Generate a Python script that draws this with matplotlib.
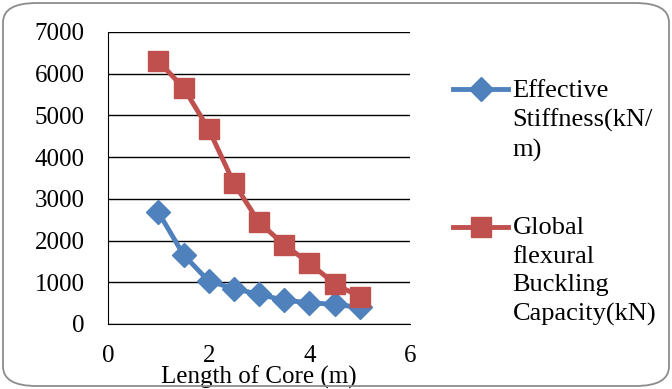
import matplotlib.pyplot as plt
from matplotlib.patches import FancyBboxPatch

# data
length = [1, 1.5, 2, 2.5, 3, 3.5, 4, 4.5, 5]
stiffness = [2680, 1660, 1030, 850, 710, 570, 510, 470, 400]
buckling = [6300, 5665, 4670, 3380, 2440, 1900, 1460, 970, 650]
labels = ['Effective\nStiffness(kN/\nm)', 'Global\nflexural\nBuckling\nCapacity(kN)']

plt.rcParams['font.family'] = ['Liberation Serif', 'DejaVu Serif']
plt.rcParams['font.size'] = 18

W, H = 672, 389
fig = plt.figure(figsize=(W / 100, H / 100), dpi=100)
ax = fig.add_axes([108 / W, 1 - 324 / H, 302 / W, 292 / H])

ax.plot(length, stiffness, color='#4F81BD', lw=3.5, marker='D', ms=12, label=labels[0])
ax.plot(length, buckling, color='#C0504D', lw=3.5, marker='s', ms=14, label=labels[1])

ax.set_xlim(0, 6)
ax.set_ylim(0, 7000)
ax.set_xticks([0, 2, 4, 6])
ax.set_yticks(range(0, 7001, 1000))
ax.grid(axis='y', color='black', lw=1)
ax.set_axisbelow(True)
for s in ['top', 'right']:
    ax.spines[s].set_visible(False)
ax.tick_params(axis='y', length=0, pad=17)
ax.tick_params(axis='x', length=0, pad=15)
ax.set_xlabel('Length of Core (m)', labelpad=-1)

leg = ax.legend(loc='upper left', bbox_to_anchor=(453 / W, 1 - 80 / H),
                bbox_transform=fig.transFigure, frameon=False, fontsize=19,
                borderpad=0, borderaxespad=0,
                handlelength=2.1, handletextpad=0.15, labelspacing=2.1)
for t in leg.get_texts():
    t.set_linespacing(1.38)
# put the marker beside the first line of each label
for col in leg._legend_handle_box.get_children():
    for item in col.get_children():
        item.align = 'top'

# rounded border round the whole chart
fig.patches.append(FancyBboxPatch((3 / W, 3 / H), 1 - 6 / W, 1 - 6 / H,
                                  boxstyle='round,pad=0,rounding_size=0.05',
                                  transform=fig.transFigure, fill=False,
                                  edgecolor='#8c8c8c', lw=1.3))

fig.savefig('out.png', dpi=100)
